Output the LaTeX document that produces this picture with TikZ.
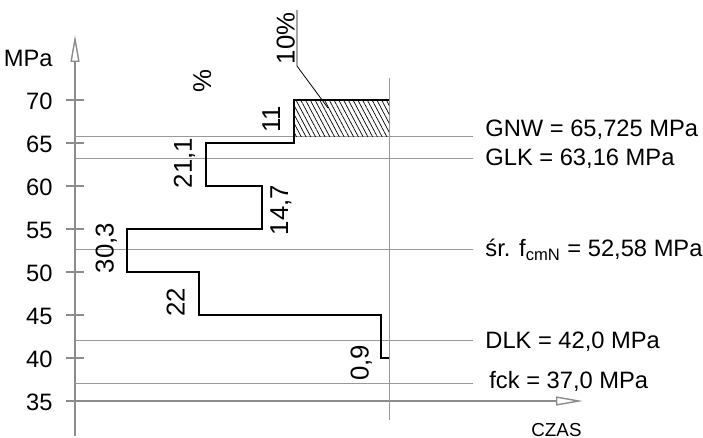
\documentclass[tikz,border=0pt]{standalone}
\usepackage{fontspec}
\setmainfont{Liberation Sans}
\usetikzlibrary{arrows.meta,patterns.meta}

\begin{document}
\begin{tikzpicture}[
                    x=0.5pt, y=4.3pt,
                    >={Triangle[open,length=13.5pt,width=4.5pt,fill=white]},
                    axis/.style={draw=black!45, line width=0.7pt},
                    level/.style={draw=black!40, line width=0.5pt},
                    bar/.style={draw=black, line width=1pt},
                    lbl/.style={font=\fontsize{11.85}{13}\selectfont, inner sep=0pt},
                    val/.style={font=\fontsize{12.9}{15}\selectfont, inner sep=0pt, rotate=90, anchor=base},
                    small/.style={font=\fontsize{9.4}{10}\selectfont, inner sep=0pt}
                    ]

    \useasboundingbox (0,30.70) rectangle (703,81.63);

    % axes
    \coordinate (ybot) at (75,30.93);
    \coordinate (ytop) at (75,77.56);
    \coordinate (xleft) at (66,35);
    \coordinate (xright) at (583,35);
    \coordinate (rbot) at (389,32.79);
    \coordinate (rtop) at (389,72.56);

    \draw[axis,->] (ybot) -- (ytop);
    \draw[axis,->] (xleft) -- (xright);
    \draw[level] (rbot) -- (rtop);

    \foreach \v in {40,45,...,70}
        \draw[axis] (66,\v) -- (84,\v);
    \foreach \v in {35,40,...,70}
        \node[lbl, anchor=base east] (t\v) at (53,\v-1.08) {\v};

    \node[lbl, anchor=base east] (mpa) at (53,73.88) {MPa};
    \node[small, anchor=base west] (czas) at (531,30.86) {CZAS};

    % levels
    \foreach \v/\n in {65.725/gnw, 63.16/glk, 52.58/sr, 42.0/dlk, 37.0/fck} {
        \coordinate (\n a) at (75,\v);
        \coordinate (\n b) at (473,\v);
        \draw[level] (\n a) -- (\n b);
    }
    \node[lbl, anchor=base west] (gnw) at (485,65.81) {GNW = 65,725 MPa};
    \node[lbl, anchor=base west] (glk) at (485,62.33) {GLK = 63,16 MPa};
    \node[lbl, anchor=base west] (sr) at (485,51.78) {śr. f\textsubscript{cmN} = 52,58 MPa};
    \node[lbl, anchor=base west] (dlk) at (485,41.13) {DLK = 42,0 MPa};
    \node[lbl, anchor=base west] (fck) at (489,36.48) {fck = 37,0 MPa};

    % hatched part above GNW
    \fill[pattern={Lines[angle=-62, distance=2.1pt, line width=0.35pt]}] (294,65.725) rectangle (389,70);

    % histogram, bar length = 8.65 px per %
    \draw[bar] (389,40) -- ({389-8.65*0.9},40) -- ({389-8.65*0.9},45)
        -- ({389-8.65*22},45) -- ({389-8.65*22},50)
        -- ({389-8.65*30.3},50) -- ({389-8.65*30.3},55)
        -- ({389-8.65*14.7},55) -- ({389-8.65*14.7},60)
        -- ({389-8.65*21.1},60) -- ({389-8.65*21.1},65)
        -- ({389-8.65*11},65) -- ({389-8.65*11},70) -- (389,70);

    \node[val] (v11) at (280.2,67.73) {11};
    \node[val] (v211) at (191.8,62.67) {21,1};
    \node[val] (v147) at (288,57.21) {14,7};
    \node[val] (v303) at (113.5,52.79) {30,3};
    \node[val] (v22) at (184.5,46.51) {22};
    \node[val] (v09) at (368.5,39.42) {0,9};
    \node[val] (proc) at (211,72.21) {\%};
    \node[val] (p10) at (294.5,77.17) {10\%};

    % leader to hatched part
    \coordinate (la) at (297,80.47);
    \coordinate (lb) at (297,73.95);
    \coordinate (lc) at (328,69.07);
    \draw[line width=0.4pt] (la) -- (lb) -- (lc);
\end{tikzpicture}
\end{document}
